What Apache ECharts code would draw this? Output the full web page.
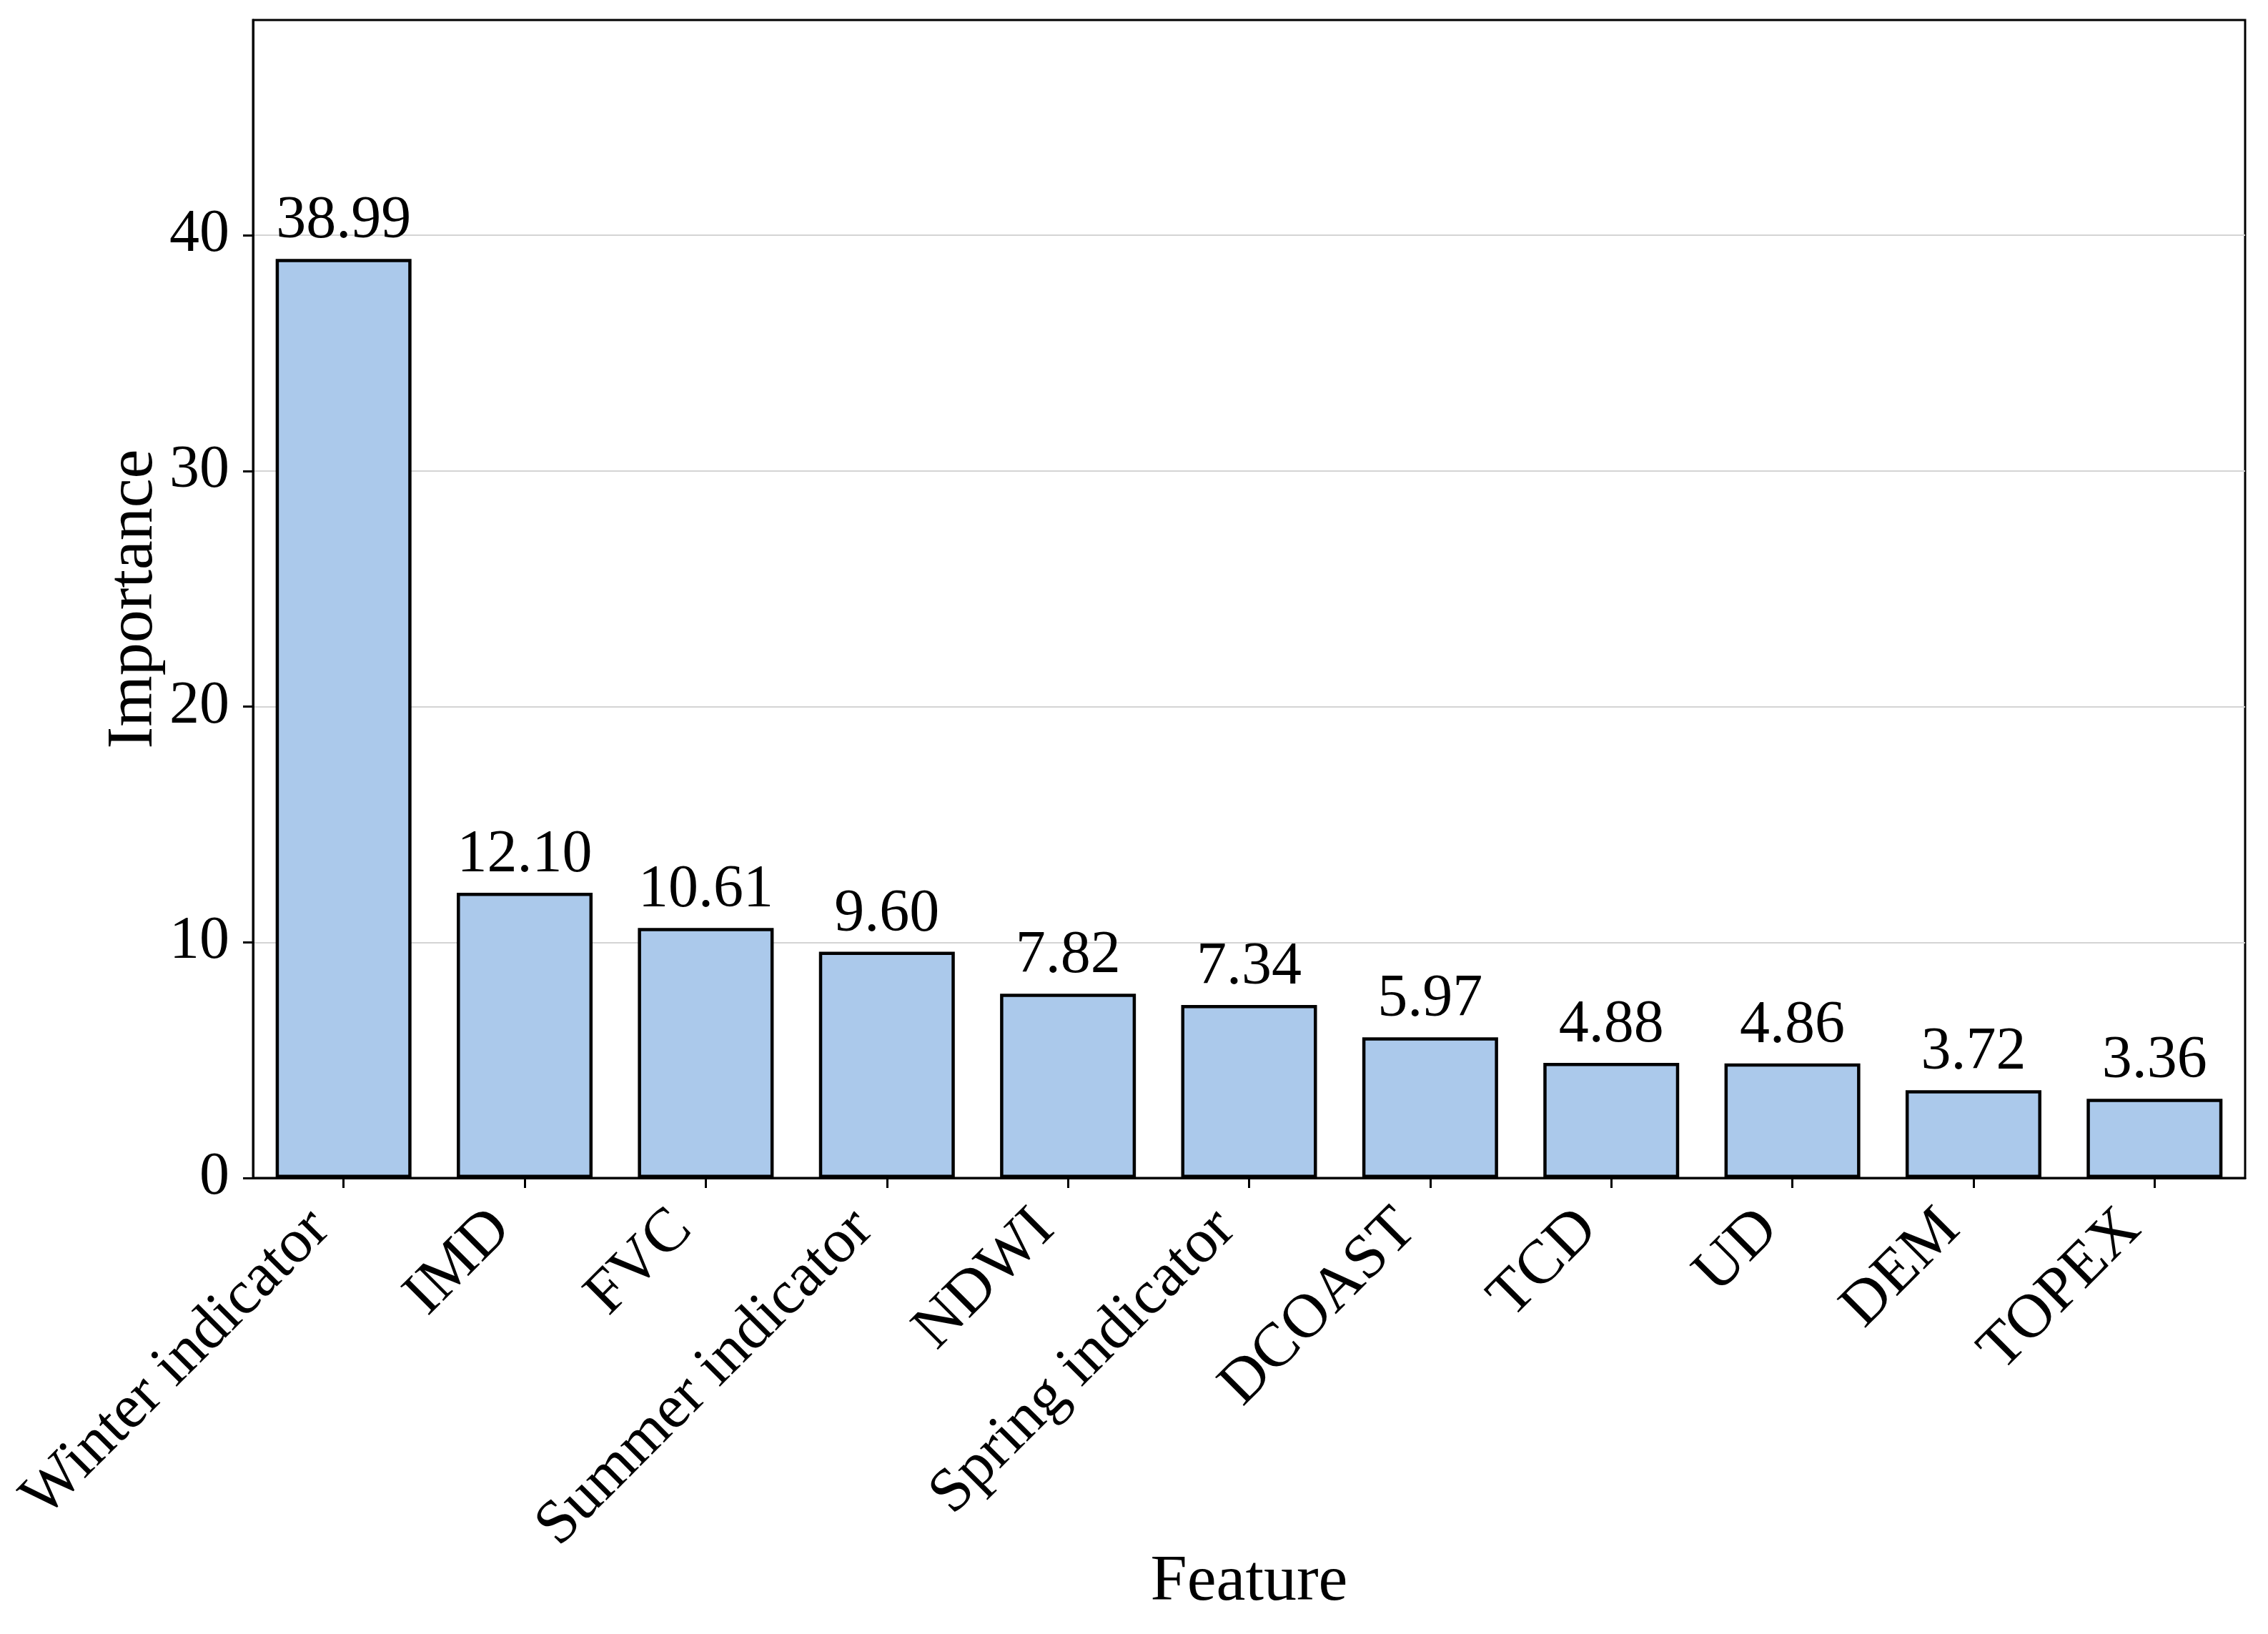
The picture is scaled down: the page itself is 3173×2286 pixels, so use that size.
<!DOCTYPE html>
<html>
<head>
<meta charset="utf-8">
<title>Feature importance</title>
<script src="https://cdn.jsdelivr.net/npm/echarts@6/dist/echarts.min.js"></script>
<style>
  html, body { margin: 0; padding: 0; background: #fff; }
  #main { width: 3173px; height: 2286px; }
</style>
</head>
<body>
<div id="main"></div>
<script>
// feature names, in plotted order
var features = ['Winter indicator', 'IMD', 'FVC', 'Summer indicator', 'NDWI',
  'Spring indicator', 'DCOAST', 'TCD', 'UD', 'DEM', 'TOPEX'];
// importance values (%)
var importance = [38.99, 12.10, 10.61, 9.60, 7.82, 7.34, 5.97, 4.88, 4.86, 3.72, 3.36];
// y ticks
var yTicks = [0, 10, 20, 30, 40];

var font = 'Liberation Serif';
var fs = 84;

var chart = echarts.init(document.getElementById('main'));
chart.setOption({
  backgroundColor: '#ffffff',
  animation: false,
  grid: {
    left: 354, right: 32, top: 28, bottom: 638,
    show: true, borderColor: '#000', borderWidth: 3, backgroundColor: 'transparent'
  },
  xAxis: {
    type: 'category',
    data: features,
    name: 'Feature',
    nameLocation: 'middle',
    nameGap: 520,
    nameMoveOverlap: false,
    nameTextStyle: { fontFamily: font, fontSize: 92, color: '#000' },
    axisLine: { show: true, lineStyle: { color: '#000', width: 3 } },
    axisTick: { show: true, alignWithLabel: true, length: 14, lineStyle: { color: '#000', width: 3 } },
    axisLabel: {
      rotate: 45, interval: 0, margin: 26, padding: [0, 46, 0, 0],
      fontFamily: font, fontSize: 87, color: '#000'
    },
    splitLine: { show: false }
  },
  yAxis: {
    type: 'value',
    min: 0,
    max: 49.13,
    interval: 10,
    name: 'Importance',
    nameLocation: 'middle',
    nameGap: 120,
    nameMoveOverlap: false,
    nameRotate: 90,
    nameTextStyle: { fontFamily: font, fontSize: 92, color: '#000' },
    axisLine: { show: true, lineStyle: { color: '#000', width: 3 } },
    axisTick: { show: true, length: 14, customValues: yTicks, lineStyle: { color: '#000', width: 3 } },
    axisLabel: {
      customValues: yTicks, margin: 33,
      fontFamily: font, fontSize: fs, color: '#000'
    },
    splitLine: { show: true, lineStyle: { color: '#d4d4d4', width: 2 } }
  },
  series: [{
    type: 'bar',
    data: importance,
    barCategoryGap: '25%',
    itemStyle: { color: '#abc9eb', borderColor: '#000', borderWidth: 4.5 },
    label: {
      show: true, position: 'top', distance: 10,
      fontFamily: font, fontSize: fs, color: '#000',
      formatter: function (p) { return p.value.toFixed(2); }
    }
  }]
});
</script>
</body>
</html>
